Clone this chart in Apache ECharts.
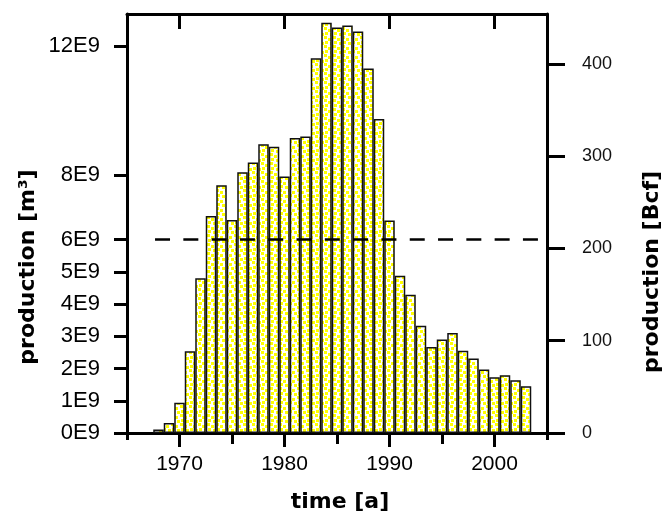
<!DOCTYPE html>
<html>
<head>
<meta charset="utf-8">
<script src="https://cdn.jsdelivr.net/npm/echarts@6/dist/echarts.min.js"></script>
<style>html,body{margin:0;padding:0;background:#fff}#c{width:663px;height:517px}</style>
</head>
<body>
<div id="c"></div>
<script>
var years = [1968,1969,1970,1971,1972,1973,1974,1975,1976,1977,1978,1979,1980,1981,1982,1983,1984,1985,1986,1987,1988,1989,1990,1991,1992,1993,1994,1995,1996,1997,1998,1999,2000,2001,2002,2003];
var production = [0.11e9,0.31e9,0.94e9,2.54e9,4.80e9,6.73e9,7.69e9,6.61e9,8.09e9,8.39e9,8.96e9,8.88e9,7.96e9,9.15e9,9.20e9,11.63e9,12.73e9,12.58e9,12.64e9,12.46e9,11.31e9,9.74e9,6.59e9,4.88e9,4.29e9,3.33e9,2.67e9,2.90e9,3.10e9,2.55e9,2.31e9,1.97e9,1.73e9,1.79e9,1.64e9,1.45e9];
var leftTicks = [0,1e9,2e9,3e9,4e9,5e9,6e9,8e9,12e9];
var rightTicks = [0,100,200,300,400];
var majorYears = [1970,1980,1990,2000];
var minorYears = [1965,1975,1985,1995,2005];
var topMinorYears = [1975,1985,1995];
var refLevel = 6e9;
var refStart = 1967.67;

var tile = document.createElement('canvas');
tile.width = 9; tile.height = 9;
var g = tile.getContext('2d');
g.fillStyle = '#ffffff'; g.fillRect(0,0,9,9);
g.fillStyle = '#ffff00';
[[0,0],[4,2],[1,5],[6,6],[-3,6],[6,-3],[-3,-3]].forEach(function(p){ g.fillRect(p[0],p[1],3,3); });

var chart = echarts.init(document.getElementById('c'), null, {renderer:'canvas'});
var lab = 'Liberation Sans, Arial, sans-serif';
var axLine = {show:true, onZero:false, lineStyle:{color:'#000', width:3}};
function xa(pos, ticks, len, inside, showLine){
  return {type:'value', min:1965, max:2005, position:pos, interval:5,
    axisLine: showLine ? axLine : {show:false},
    axisTick:{show:true, inside:inside, length:len, customValues:ticks, lineStyle:{color:'#000', width:3}},
    axisLabel:{show:false}, splitLine:{show:false}};
}
var x0 = xa('bottom', majorYears, 14, false, true);
x0.axisLabel = {show:true, customValues:majorYears, fontSize:21, fontFamily:lab, color:'#000', margin:21,
  formatter:function(v){ return String(Math.round(v)); }};
chart.setOption({
  animation:false,
  grid:{left:127, right:116, top:14, bottom:84},
  xAxis:[x0, xa('bottom', minorYears, 7, false, false), xa('top', majorYears, 15, true, true), xa('top', topMinorYears, 11, true, false)],
  yAxis:[
    {type:'value', min:0, max:13e9, position:'left', axisLine:axLine,
     axisTick:{show:true, length:13, customValues:leftTicks, lineStyle:{color:'#000', width:3}},
     axisLabel:{show:true, customValues:leftTicks, fontSize:22, fontFamily:lab, color:'#000', margin:27,
       formatter:function(v){ return Math.round(v/1e9) + 'E9'; }},
     splitLine:{show:false}},
    {type:'value', min:0, max:454, position:'right', axisLine:axLine,
     axisTick:{show:true, length:18, customValues:rightTicks, lineStyle:{color:'#000', width:3}},
     axisLabel:{show:true, customValues:rightTicks, fontSize:18, fontFamily:lab, color:'#111', margin:35,
       formatter:function(v){ return String(Math.round(v)); }},
     splitLine:{show:false}}
  ],
  series:[{
    type:'bar', xAxisIndex:0, yAxisIndex:0, barWidth:10.5,
    data: years.map(function(y,i){ return [y, production[i]]; }),
    itemStyle:{color:{image:tile, repeat:'repeat'}, borderColor:'#111', borderWidth:1.5},
    markLine:{silent:true, symbol:['none','none'], label:{show:false}, animation:false,
      lineStyle:{color:'#000', width:2.5, type:[15,13.3]},
      data:[[{coord:[refStart, refLevel]},{coord:[2005, refLevel]}]]}
  }],
  graphic:[
    {type:'text', x:28, y:267, rotation:Math.PI/2, style:{text:'production [m³]', font:'bold 22px "DejaVu Sans"', fill:'#000', textAlign:'center', textVerticalAlign:'middle'}},
    {type:'text', x:652, y:272, rotation:Math.PI/2, style:{text:'production [Bcf]', font:'bold 22px "DejaVu Sans"', fill:'#000', textAlign:'center', textVerticalAlign:'middle'}},
    {type:'text', x:340, y:502, style:{text:'time [a]', font:'bold 22px "DejaVu Sans"', fill:'#000', textAlign:'center', textVerticalAlign:'middle'}}
  ]
});
</script>
</body>
</html>
